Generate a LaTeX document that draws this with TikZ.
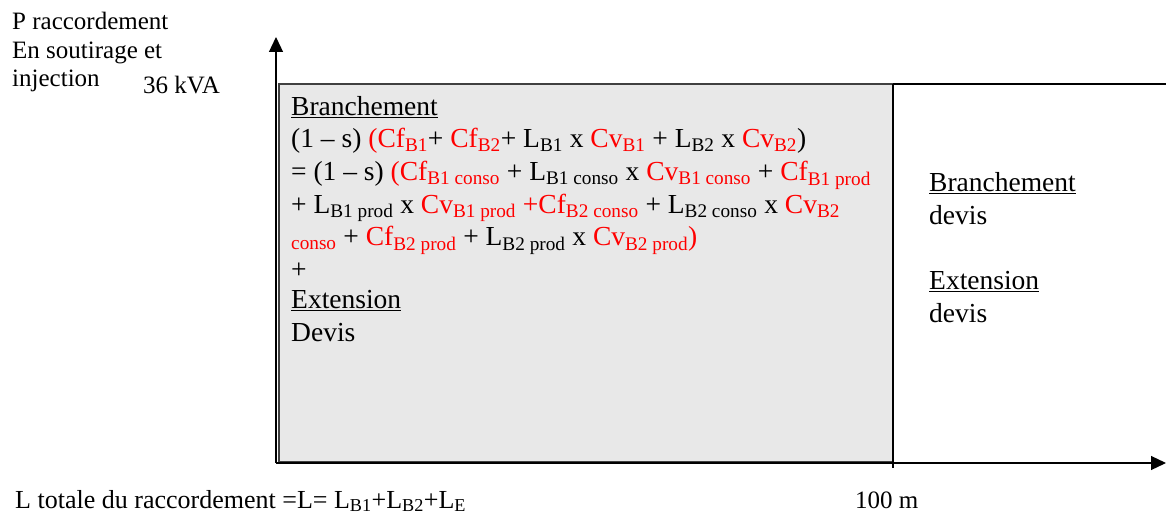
\documentclass[tikz,border=0pt]{standalone}
\usepackage{fontspec}
\setmainfont{Liberation Serif}
\usetikzlibrary{arrows.meta}
\definecolor{fondgris}{RGB}{232,232,232}
\newcommand{\rouge}[1]{\textcolor{red}{#1}}
\newcommand{\ind}[1]{\textsubscript{#1}}

\begin{document}
\begin{tikzpicture}[x=1pt, y=-1pt, >={Triangle[length=15pt,width=14pt]},
  etiq/.style={font=\fontsize{25}{28.5}\selectfont, inner sep=0pt, align=left},
  texte/.style={font=\fontsize{27.5}{32.7}\selectfont, inner sep=0pt, align=left}]
  \useasboundingbox (0,0) rectangle (1166,516);

  % zone grisee et colonne devis
  \draw[line width=1.5pt, draw=black!75, fill=fondgris] (279,84) rectangle (893,462);
  \draw[line width=1.5pt] (893,84) -- (1166,84);
  \draw[line width=1.2pt] (893,84) -- (893,468);

  % axes
  \coordinate (origine) at (276,463);
  \coordinate (ysommet) at (276,37);
  \coordinate (xsommet) at (1166,463);
  \draw[->, line width=1.2pt] (origine) -- (ysommet);
  \draw[->, line width=1.2pt] (origine) -- (xsommet);

  % etiquettes des axes (ancre = ligne de base de la derniere ligne)
  \node[etiq, anchor=base west] (praccord) at (12,87) {P raccordement\\En soutirage et\\injection};
  \node[etiq, anchor=base west] (kva) at (143,94) {36 kVA};
  \node[etiq, anchor=base west, font=\fontsize{26}{30}\selectfont] (ltotale) at (15,508) {L totale du raccordement =L= L\ind{B1}+L\ind{B2}+L\ind{E}};
  \node[etiq, anchor=base west] (centm) at (855,508) {100 m};

  % formule du branchement
  \node[texte, anchor=base west] (branch) at (291,341) {\underline{Branchement}\\
    (1 -- s) \rouge{(Cf\ind{B1}}+ \rouge{Cf\ind{B2}}+ L\ind{B1} x \rouge{Cv\ind{B1}} + L\ind{B2} x \rouge{Cv\ind{B2}})\\
    = (1 -- s) \rouge{(Cf\ind{B1 conso}} + L\ind{B1 conso} x \rouge{Cv\ind{B1 conso}} + \rouge{Cf\ind{B1 prod}}\\
    + L\ind{B1 prod} x \rouge{Cv\ind{B1 prod} +Cf\ind{B2 conso}} + L\ind{B2 conso} x \rouge{Cv\ind{B2}}\\
    \rouge{\ind{conso}} + \rouge{Cf\ind{B2 prod}} + L\ind{B2 prod} x \rouge{Cv\ind{B2 prod})}\\
    +\\[-3pt]
    \underline{Extension}\\
    Devis};

  % au-dela de 100 m
  \node[texte, anchor=base west] (devis) at (929,322) {\underline{Branchement}\\devis\\[32pt]\underline{Extension}\\devis};
\end{tikzpicture}
\end{document}
